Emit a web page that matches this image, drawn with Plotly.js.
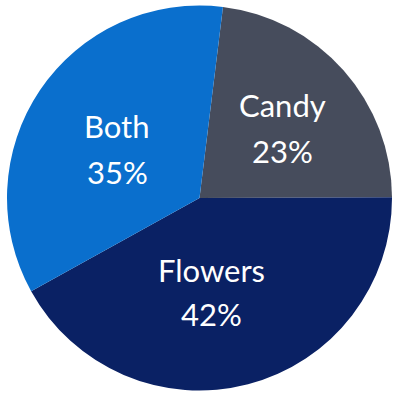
<!DOCTYPE html>
<html>
<head>
<meta charset="utf-8">
<script src="https://cdn.plot.ly/plotly-3.0.1.min.js"></script>
<style>
  html, body { margin: 0; padding: 0; background: #fff; }
  #chart { width: 400px; height: 400px; }
</style>
</head>
<body>
<div id="chart"></div>
<script>
// Gift preference shares
const labels = ['Candy', 'Flowers', 'Both'];
const shares = [23, 42, 35];
const colors = ['#464c5c', '#0a2164', '#0a6fcd'];

// label anchor points in pixels (name line, percent line)
const labelPos = [
    { x: 282, y1: 105, y2: 151 },
    { x: 211, y1: 270, y2: 314 },
    { x: 117, y1: 126, y2: 172 }
];

const FONT = { family: 'Lato, "Open Sans", sans-serif', size: 31, color: '#ffffff' };
const W = 400, H = 400;

const trace = {
    type: 'pie',
    labels: labels,
    values: shares,
    sort: false,
    direction: 'clockwise',
    rotation: 7,
    domain: { x: [7 / W, 392 / W], y: [7 / H, 397 / H] },
    marker: { colors: colors, line: { width: 0 } },
    textinfo: 'none',
    hoverinfo: 'skip'
};

const total = shares.reduce((a, b) => a + b, 0);
const annotations = [];
labels.forEach((lab, i) => {
    const p = labelPos[i];
    const pct = Math.round(shares[i] / total * 100) + '%';
    annotations.push({
        text: lab, xref: 'paper', yref: 'paper',
        x: p.x / W, y: 1 - p.y1 / H, xanchor: 'center', yanchor: 'middle',
        showarrow: false, font: FONT
    });
    annotations.push({
        text: pct, xref: 'paper', yref: 'paper',
        x: p.x / W, y: 1 - p.y2 / H, xanchor: 'center', yanchor: 'middle',
        showarrow: false, font: FONT
    });
});

const layout = {
    width: W,
    height: H,
    margin: { l: 0, r: 0, t: 0, b: 0 },
    showlegend: false,
    paper_bgcolor: '#ffffff',
    annotations: annotations
};

Plotly.newPlot('chart', [trace], layout, { displayModeBar: false, staticPlot: true });
</script>
</body>
</html>
